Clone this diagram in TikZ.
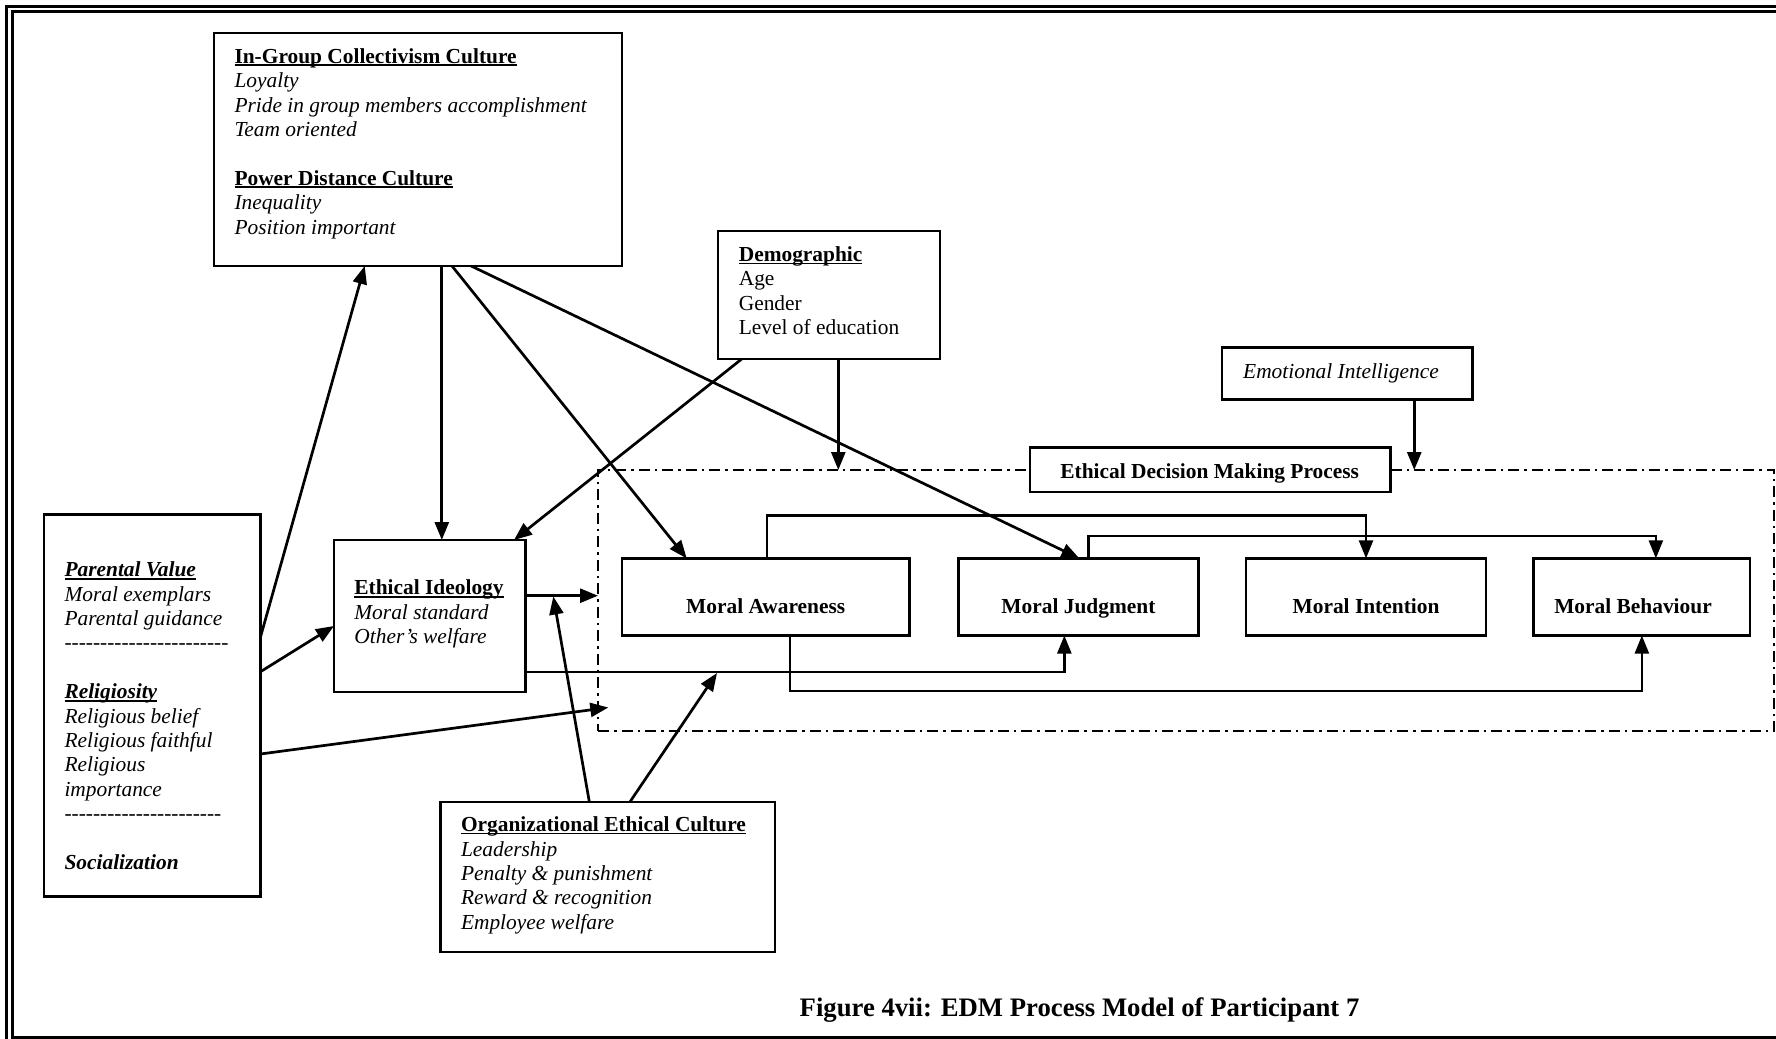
\documentclass[tikz,border=0pt]{standalone}
\usepackage{fontspec}
\setmainfont{Liberation Serif}
\usetikzlibrary{arrows.meta}
% underlined heading with a rule at a fixed depth below the baseline
\newcommand\hdr[1]{\setbox0=\hbox{#1}\rlap{\rule[-2.8pt]{\wd0}{1.6pt}}\box0}
% a row of separate hyphens (no en-dash ligatures)
\newcommand\hyrow[1]{\foreach \i in {1,...,#1}{-}}
\begin{document}
\begin{tikzpicture}[x=1pt, y=-1pt, line join=miter,
  box/.style={draw, line width=2.5pt, fill=white, inner sep=0pt, outer sep=0pt, anchor=north west},
  procbox/.style={draw, line width=2pt, dash pattern=on 11pt off 5pt on 2.5pt off 5pt,
                  inner sep=0pt, outer sep=0pt, anchor=north west},
  txt/.style={anchor=north west, inner sep=0pt, outer sep=0pt, align=left,
              font=\fontsize{21.4pt}{24.4pt}\selectfont},
  lbl/.style={anchor=base, inner sep=0pt, outer sep=0pt,
              font=\fontsize{21.4pt}{24.4pt}\selectfont\bfseries},
  arr/.style={line width=2.7pt, -{Triangle[length=18pt,width=14pt]}},
  link/.style={line width=2.3pt, -{Triangle[length=18pt,width=14pt]}}]

\useasboundingbox (0,0) rectangle (1776,1038);
\clip (0,0) rectangle (1776,1038);

% double page frame
\draw[line width=2.2pt] (6.5,6.5) rectangle (1800,1050);
\draw[line width=3pt] (12,12) rectangle (1795,1037);

% process frame and boxes
\node[procbox, minimum width=1176pt, minimum height=261pt] (proc) at (598,470) {};
\node[box, minimum width=408pt, minimum height=233pt] (ig) at (214,33) {};
\node[box, minimum width=222pt, minimum height=128pt] (demo) at (718,231) {};
\node[box, minimum width=250.5pt, minimum height=52pt] (emo) at (1222,347.7) {};
\node[box, minimum width=360.5pt, minimum height=44.5pt] (edm) at (1030,447.5) {};
\node[box, minimum width=216.5pt, minimum height=382pt] (par) at (44,514.7) {};
\node[box, minimum width=191.6pt, minimum height=152pt] (ei) at (334,540) {};
\node[box, minimum width=334.3pt, minimum height=150pt] (org) at (440.7,802) {};
\node[box, minimum width=287.8pt, minimum height=77.1pt] (ma) at (621.8,558.4) {};
\node[box, minimum width=240.1pt, minimum height=77.1pt] (mj) at (958.3,558.4) {};
\node[box, minimum width=240pt, minimum height=77.1pt] (mi) at (1246,558.4) {};
\node[box, minimum width=216.3pt, minimum height=77.1pt] (mb) at (1533.7,558.4) {};

% box texts
\node[txt] (igt) at (234.5,46.2) {\strut\hdr{\textbf{In-Group Collectivism Culture}}\\
  \textit{Loyalty}\\
  \textit{Pride in group members accomplishment}\\
  \textit{Team oriented}\\[24.4pt]
  \hdr{\textbf{Power Distance Culture}}\\
  \textit{Inequality}\\
  \textit{Position important}};
\node[txt] (demot) at (738.8,244.4) {\strut\hdr{\textbf{Demographic}}\\
  Age\\
  Gender\\
  Level of education};
\node[anchor=base west, inner sep=0pt, font=\fontsize{21.4pt}{24.4pt}\selectfont] (emot)
  at (1243,378) {\textit{Emotional Intelligence}};
\node[txt] (part) at (64.5,559.7) {\strut\hdr{\textbf{\textit{Parental Value}}}\\
  \textit{Moral exemplars}\\
  \textit{Parental guidance}\\
  \textit{\hyrow{23}}\\[24.4pt]
  \hdr{\textbf{\textit{Religiosity}}}\\
  \textit{Religious belief}\\
  \textit{Religious faithful}\\
  \textit{Religious}\\
  \textit{importance}\\
  \textit{\hyrow{22}}\\[24.4pt]
  \textbf{\textit{Socialization}}};
\node[txt] (eit) at (354.4,577.9) {\strut\hdr{\textbf{Ethical Ideology}}\\
  \textit{Moral standard}\\
  \textit{Other’s welfare}};
\node[txt] (orgt) at (461,814.6) {\strut\hdr{\textbf{Organizational Ethical Culture}}\\
  \textit{Leadership}\\
  \textit{Penalty \& punishment}\\
  \textit{Reward \& recognition}\\
  \textit{Employee welfare}};

\node[lbl] (edmt) at (1209.7,478) {Ethical Decision Making Process};
\node[lbl] (mat) at (765.7,613) {Moral Awareness};
\node[lbl] (mjt) at (1078.4,613) {Moral Judgment};
\node[lbl] (mit) at (1366,613) {Moral Intention};
\node[lbl] (mbt) at (1633,613) {Moral Behaviour};

% connectors
\coordinate (j3) at (608.3,707.5);
\coordinate (j11) at (553.3,596.5);
\coordinate (j12) at (717,673);
\coordinate (d8) at ([xshift=9.3pt]demo.south);
\coordinate (e9) at ([xshift=67pt]emo.south);

\draw[arr] (par.east |- 0,637) -- ([xshift=-53.3pt]ig.south);
\draw[arr] (par.east |- 0,671.7) -- (ei.west |- 0,626);
\draw[arr] (par.east |- 0,754) -- (j3);
\draw[arr] ([xshift=23.8pt]ig.south) -- ([xshift=12pt]ei.north);
\draw[arr] ([xshift=34pt]ig.south) -- ([xshift=-79pt]ma.north);
\draw[arr] ([xshift=53.2pt]ig.south) -- ([xshift=1pt]mj.north);
\draw[arr] ([xshift=-87.3pt]demo.south) -- ([xshift=84.2pt]ei.north);
\draw[arr] (d8) -- (d8 |- proc.north);
\draw[arr] (e9) -- (e9 |- proc.north);
\draw[arr] (ei.east |- 0,595.7) -- (proc.west |- 0,595.7);
\draw[arr] ([xshift=-18.5pt]org.north) -- (j11);
\draw[arr] ([xshift=22pt]org.north) -- (j12);

\draw[link] (ei.east |- 0,671.7) -| ([xshift=-14pt]mj.south);
\draw[link] ([xshift=24pt]ma.south) -- ++(0,55.5) -| (mb.south);
\draw[link] ([xshift=1pt]ma.north) -- ++(0,-43) -| (mi.north);
\draw[link] ([xshift=10pt]mj.north) -- ++(0,-22.6) -| ([xshift=14pt]mb.north);

% caption
\node[anchor=base, inner sep=0pt, font=\fontsize{26.7pt}{30pt}\selectfont\bfseries] (cap)
  at (1079.5,1016) {Figure 4vii: EDM Process Model of Participant 7};
\end{tikzpicture}
\end{document}
